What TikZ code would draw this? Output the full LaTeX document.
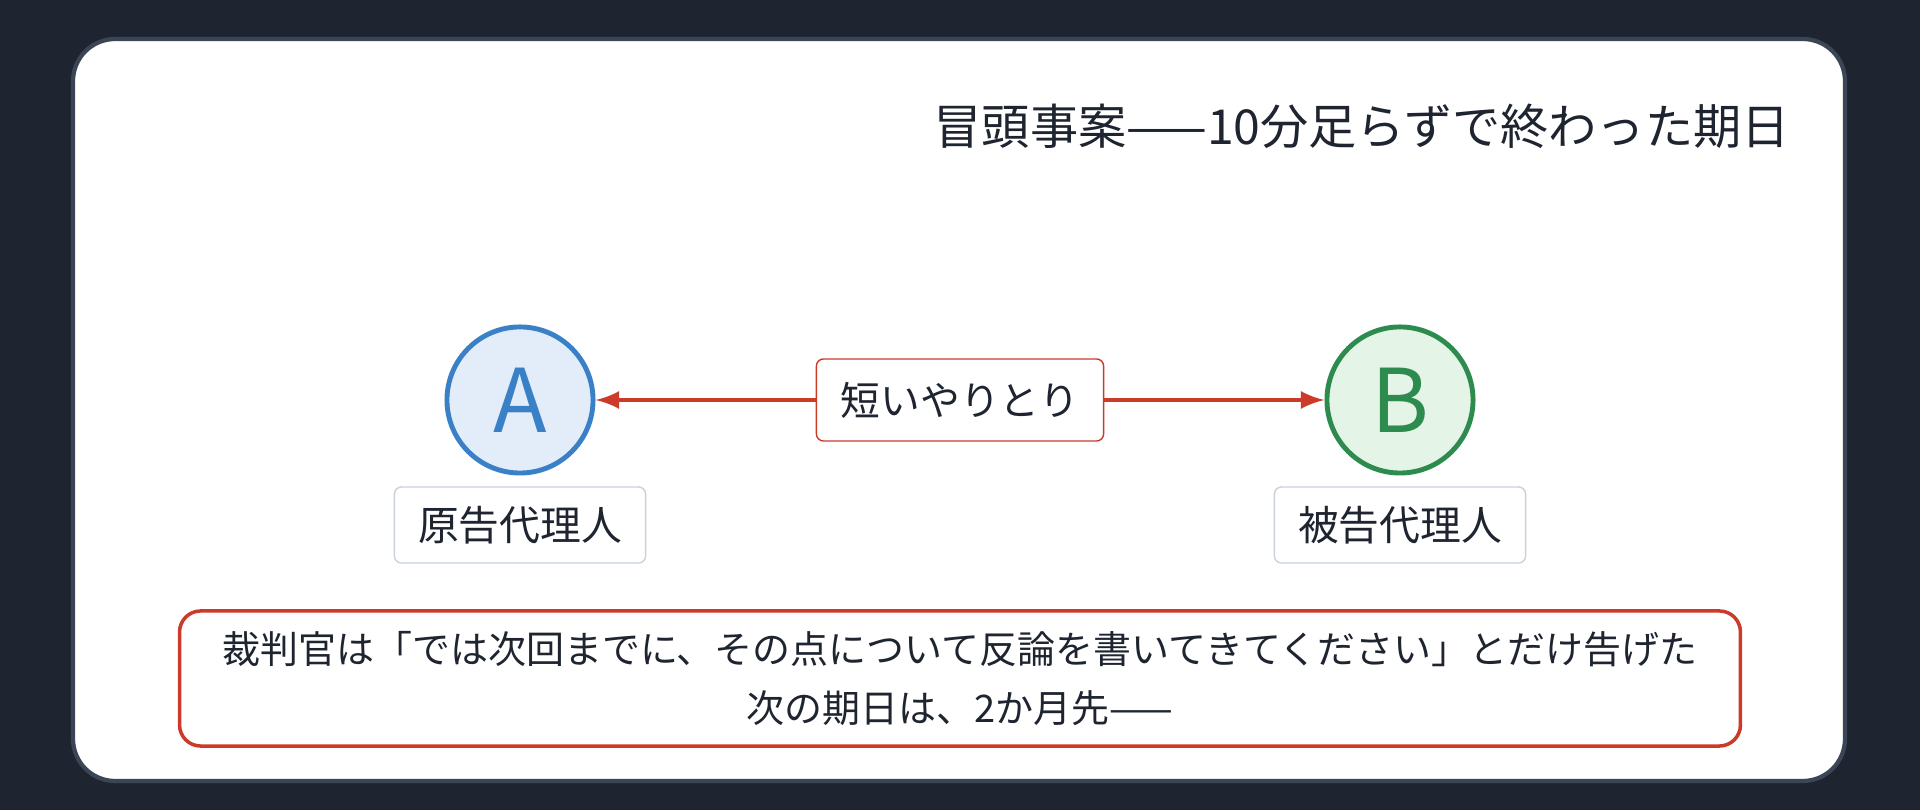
\documentclass[tikz,border=0pt]{standalone}
\usepackage{fontspec}
\setmainfont{Noto Sans CJK JP}
\definecolor{pagebg}{HTML}{1E2530}
\definecolor{cardedge}{HTML}{3A4556}
\definecolor{inkdark}{HTML}{1E2530}
\definecolor{talkred}{HTML}{CC3B2A}
\definecolor{ablue}{HTML}{3A80C6}
\definecolor{ablueFill}{HTML}{E3EDF9}
\definecolor{bgreen}{HTML}{2E8B4E}
\definecolor{bgreenFill}{HTML}{E4F5E8}
\definecolor{tagedge}{HTML}{C9D1DC}
\tikzset{
  party/.style={circle, minimum size=1.46cm, line width=1.4pt, inner sep=0pt, font=\fontsize{25}{25}\selectfont},
  tag/.style={draw=tagedge, fill=white, rounded corners=2pt, minimum width=2.51cm, minimum height=0.76cm, text=inkdark, font=\fontsize{11.6}{14}\selectfont},
  talk/.style={talkred, line width=1.3pt, -latex}
}
\begin{document}
\begin{tikzpicture}[x=0.01cm,y=-0.01cm]
	\useasboundingbox (0,0) rectangle (1920,810);
	\fill [pagebg] (0,0) rectangle (1920,810);
	\draw [cardedge, line width=1.2pt, fill=white, rounded corners=12pt] (73,39) rectangle (1845,781);
	% title
	\node (title) [anchor=east, text=inkdark, font=\fontsize{13.7}{16}\selectfont] at (1802,126) {冒頭事案——10分足らずで終わった期日};
	% parties
	\node (A) [party, draw=ablue, fill=ablueFill, text=ablue] at (520,400) {A};
	\node (B) [party, draw=bgreen, fill=bgreenFill, text=bgreen] at (1400,400) {B};
	\node (Aname) [tag] at (520,525) {原告代理人};
	\node (Bname) [tag] at (1400,525) {被告代理人};
	% exchange
	\node (talk) [draw=talkred, fill=white, rounded corners=2pt, minimum width=2.87cm, minimum height=0.82cm, text=inkdark, font=\fontsize{11.3}{14}\selectfont] at (960,400) {短いやりとり};
	\draw [talk] (talk) -- (A);
	\draw [talk] (talk) -- (B);
	% judge's remark
	\node (judge) [draw=talkred, line width=1pt, fill=white, rounded corners=6pt, minimum width=15.6cm, minimum height=1.35cm, align=center, text=inkdark, font=\fontsize{10.8}{16.8}\selectfont] at (960,678.5) {裁判官は「では次回までに、その点について反論を書いてきてください」とだけ告げた\\次の期日は、2か月先——};
\end{tikzpicture}
\end{document}
